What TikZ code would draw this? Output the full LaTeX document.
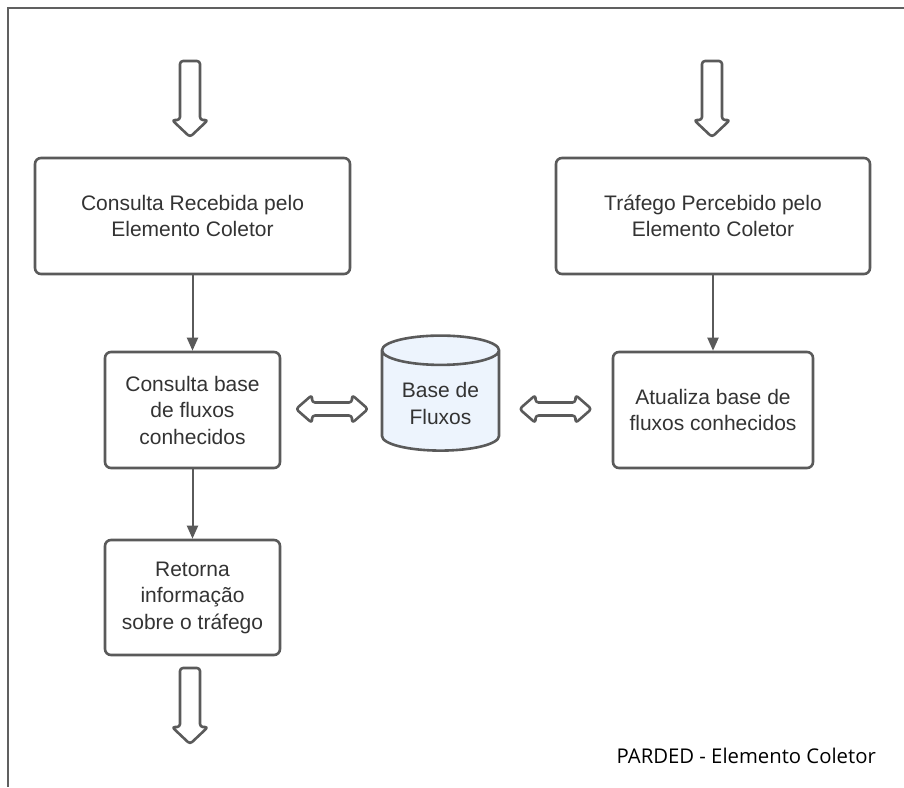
\documentclass[tikz,border=0pt]{standalone}
\usepackage{fontspec}
\setmainfont{Liberation Sans}
\newfontfamily\captionfont{Open Sans}
\usetikzlibrary{arrows.meta,shapes.geometric}
\definecolor{edge}{HTML}{5A5A5A}
\definecolor{ink}{HTML}{333333}
\definecolor{dbfill}{HTML}{EDF4FD}
\tikzset{
  stepbox/.style={draw=edge, line width=2.6pt, rounded corners=6pt, fill=white,
    align=center, text=ink, inner sep=0pt,
    font=\fontsize{21}{26.5}\selectfont},
  conn/.style={draw=edge, line width=2pt, -{Triangle[length=13pt,width=11pt]}},
  blockarrow/.style={draw=edge, line width=2.6pt, rounded corners=3pt, line join=round},
  framerule/.style={draw=gray!75!black, line width=2pt},
  downarr/.pic={
    \draw[blockarrow] (-10,0) -- (10,0) -- (10,59) -- (18,59) -- (0,76)
      -- (-18,59) -- (-10,59) -- cycle;
  },
  bothways/.pic={
    \draw[blockarrow] (-36,0) -- (-20,-14) -- (-20,-6.5) -- (20,-6.5) -- (20,-14)
      -- (36,0) -- (20,14) -- (20,6.5) -- (-20,6.5) -- (-20,14) -- cycle;
  }
}
\begin{document}
\begin{tikzpicture}[x=1pt,y=-1pt]
\useasboundingbox (0,0) rectangle (904,787);

% outer frame: top and left rules only
\draw[framerule] (904,8) -- (8,8) -- (8,787);

% process boxes
\node[stepbox, minimum width=315pt, minimum height=116pt] (consulta) at (192.5,216)
  {Consulta Recebida pelo\\Elemento Coletor};
\node[stepbox, minimum width=314pt, minimum height=116pt] (trafego) at (713,216)
  {Tráfego Percebido pelo\\Elemento Coletor};
\node[stepbox, minimum width=175pt, minimum height=116pt] (busca) at (192.5,410)
  {Consulta base\\de fluxos\\conhecidos};
\node[stepbox, minimum width=200pt, minimum height=116pt] (atualiza) at (713,410)
  {Atualiza base de\\fluxos conhecidos};
\node[stepbox, minimum width=175pt, minimum height=115pt] (retorna) at (192.5,597.5)
  {Retorna\\informação\\sobre o tráfego};

% flow database
\node[cylinder, shape border rotate=90, aspect=0.35, draw=edge, line width=2.6pt,
  fill=dbfill, minimum width=117pt, minimum height=115pt, align=center, text=ink,
  font=\fontsize{21}{26.5}\selectfont] (base) at (440.5,403.5) {Base de\\Fluxos};

% inputs and output
\pic at (190,61) {downarr};
\pic at (712,61) {downarr};
\pic at (190,668) {downarr};

% exchanges with the database
\pic at (332,409) {bothways};
\pic at (555.5,409) {bothways};

% connectors
\draw[conn] (consulta.south) -- (busca.north);
\draw[conn] (trafego.south -| atualiza.north) -- (atualiza.north);
\draw[conn] (busca.south) -- (retorna.north);

% caption
\node[anchor=base east, text=black, font=\captionfont\fontsize{20.3}{24}\selectfont,
  inner sep=0pt] (legenda) at (876,763) {PARDED - Elemento Coletor};
\end{tikzpicture}
\end{document}
